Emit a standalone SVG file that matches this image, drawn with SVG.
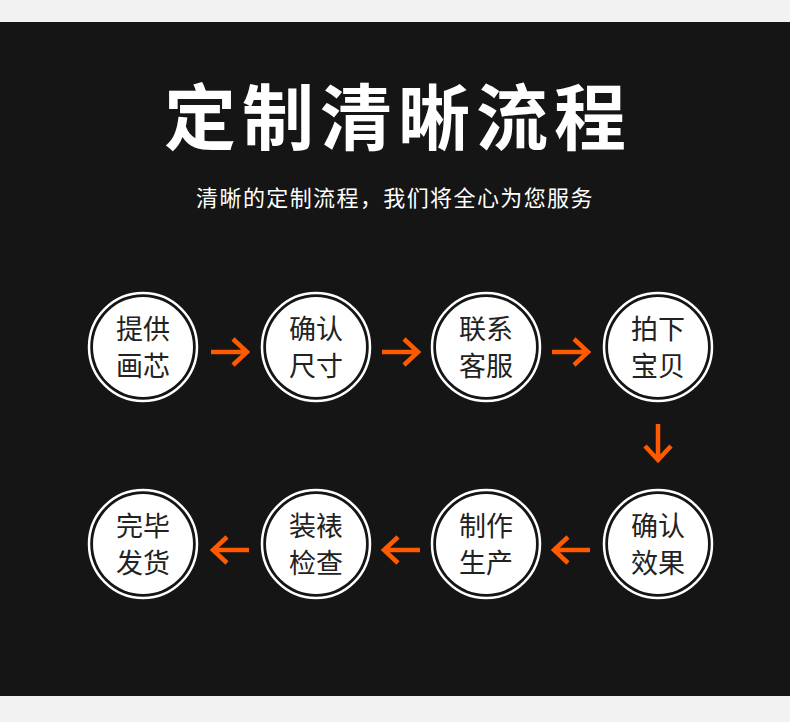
<svg xmlns="http://www.w3.org/2000/svg" width="790" height="722" viewBox="0 0 790 722">
<defs><style>
.ring{fill:none;stroke:#fff;stroke-width:2.5}
.core{fill:#fff}
.t{font-family:"Noto Sans CJK SC",sans-serif;font-size:27px;fill:#222;text-anchor:middle}
.ar{fill:none;stroke:#ff5a00;stroke-width:4.5;stroke-linecap:butt}
</style>
<g id="node"><circle class="ring" r="54"/><circle class="core" r="50"/></g>
</defs>
<rect width="790" height="722" fill="#f2f2f2"/>
<rect y="22" width="790" height="674" fill="#151515"/>
<text x="398" y="144" font-family="Noto Sans CJK SC,sans-serif" font-size="72" font-weight="bold" fill="#fff" text-anchor="middle" letter-spacing="6">定制清晰流程</text>
<text x="395" y="206" font-family="Noto Sans CJK SC,sans-serif" font-size="22" fill="#fff" text-anchor="middle" letter-spacing="1.4">清晰的定制流程，我们将全心为您服务</text>
<g id="n1"><use href="#node" x="143" y="347"/><text class="t" x="143" y="339">提供</text><text class="t" x="143" y="376">画芯</text></g>
<g id="n2"><use href="#node" x="316" y="347"/><text class="t" x="316" y="339">确认</text><text class="t" x="316" y="376">尺寸</text></g>
<g id="n3"><use href="#node" x="486" y="347"/><text class="t" x="486" y="339">联系</text><text class="t" x="486" y="376">客服</text></g>
<g id="n4"><use href="#node" x="658" y="347"/><text class="t" x="658" y="339">拍下</text><text class="t" x="658" y="376">宝贝</text></g>
<g id="n5"><use href="#node" x="658" y="544"/><text class="t" x="658" y="536">确认</text><text class="t" x="658" y="573">效果</text></g>
<g id="n6"><use href="#node" x="486" y="544"/><text class="t" x="486" y="536">制作</text><text class="t" x="486" y="573">生产</text></g>
<g id="n7"><use href="#node" x="316" y="544"/><text class="t" x="316" y="536">装裱</text><text class="t" x="316" y="573">检查</text></g>
<g id="n8"><use href="#node" x="143" y="544"/><text class="t" x="143" y="536">完毕</text><text class="t" x="143" y="573">发货</text></g>
<g id="connectors" class="ar">
<path d="M211 352H246M233 339L247 352L233 365"/>
<path d="M382 352H417M404 339L418 352L404 365"/>
<path d="M552 352H587M574 339L588 352L574 365"/>
<path d="M658 424V459M645 446L658 460L671 446"/>
<path d="M590 550H555M568 537L554 550L568 563"/>
<path d="M420 550H385M398 537L384 550L398 563"/>
<path d="M249 550H214M227 537L213 550L227 563"/>
</g>
</svg>
